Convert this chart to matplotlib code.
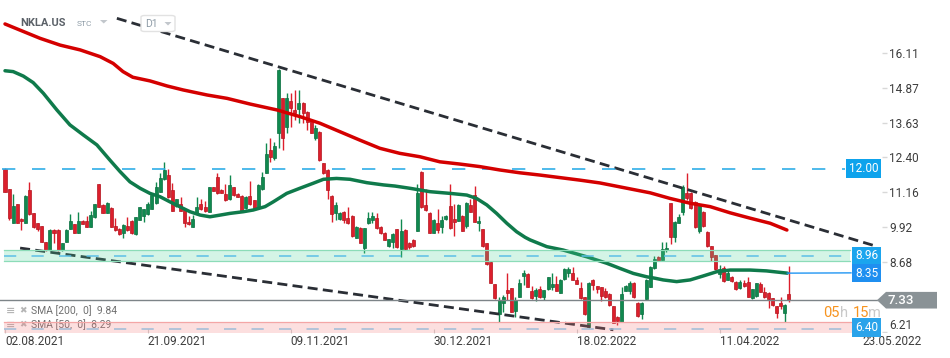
import matplotlib
matplotlib.use('Agg')
import matplotlib.pyplot as plt
from matplotlib.patches import Rectangle, Polygon, FancyBboxPatch
import matplotlib.transforms as mtransforms
import numpy as np

plt.rcParams['font.family'] = ['Roboto', 'DejaVu Sans']

# ---------------- data ----------------
opens = [11.97, 11.26, 10.08, 10.74, 10.21, 10.08, 11.24, 10.41, 10.06, 9.95,
         9.39, 9.11, 9.82, 9.82, 9.11, 9.41, 9.86, 10.03, 9.73, 10.14,
         10.14, 9.94, 10.27, 11.45, 10.71, 10.44, 10.61, 9.96, 9.86, 9.70,
         9.96, 10.14, 9.68, 10.18, 10.32, 10.39, 10.58, 10.77, 11.18, 11.62,
         11.77, 11.24, 10.67, 10.73, 10.55, 10.10, 9.94, 10.39, 10.73, 10.62,
         10.47, 11.33, 11.69, 11.24, 11.10, 10.91, 11.33, 11.10, 11.03, 10.59,
         11.03, 10.88, 10.59, 11.26, 11.85, 12.66, 12.36, 13.27, 14.49, 13.49,
         14.40, 14.08, 14.10, 14.31, 14.02, 13.72, 13.07, 13.31, 12.18, 11.95,
         11.03, 10.41, 10.20, 10.47, 10.23, 10.32, 9.55, 9.90, 9.17, 10.06,
         10.18, 10.23, 9.94, 9.73, 9.25, 9.41, 9.84, 9.14, 9.82, 9.37,
         9.47, 9.80, 11.89, 10.71, 10.44, 9.73, 10.08, 9.94, 10.20, 10.67,
         10.20, 10.15, 10.32, 9.96, 10.71, 11.06, 10.06, 9.84, 9.35, 8.70,
         7.90, 6.84, 7.22, 7.69, 7.75, 6.96, 7.46, 8.19, 8.26, 7.67,
         7.48, 7.73, 7.46, 7.72, 7.79, 7.91, 7.60, 8.07, 8.31, 8.31,
         8.05, 7.77, 7.43, 6.39, 8.05, 7.83, 7.79, 7.67, 7.55, 7.12,
         6.75, 6.57, 7.67, 7.67, 7.95, 7.24, 6.84, 7.36, 7.81, 8.46,
         8.85, 8.76, 9.11, 10.77, 9.58, 10.08, 10.47, 11.14, 11.14, 10.83,
         9.80, 10.47, 9.76, 9.25, 8.93, 8.26, 8.46, 8.05, 8.17, 7.99,
         7.75, 7.95, 7.99, 7.40, 7.48, 7.91, 7.63, 7.60, 7.40, 7.12,
         7.24, 6.89, 7.55]
highs = [12.01, 11.28, 11.10, 10.76, 10.25, 11.06, 11.52, 10.43, 10.08, 9.97,
         9.41, 9.84, 9.85, 9.85, 9.37, 9.84, 10.39, 10.05, 10.46, 10.16,
         10.32, 10.49, 10.76, 11.47, 10.73, 10.81, 10.63, 10.23, 9.88, 10.02,
         10.29, 10.16, 10.29, 10.64, 10.58, 10.83, 11.08, 11.54, 11.85, 12.22,
         11.97, 11.50, 10.93, 11.00, 10.57, 10.32, 10.35, 10.98, 10.91, 10.85,
         11.35, 11.35, 11.85, 11.26, 11.47, 11.77, 11.35, 11.12, 11.05, 11.02,
         11.55, 10.90, 11.44, 11.89, 12.89, 13.07, 12.95, 15.52, 14.51, 14.67,
         14.67, 14.79, 14.79, 14.37, 14.04, 13.74, 13.55, 13.33, 12.20, 11.97,
         11.05, 10.83, 10.46, 10.49, 10.65, 10.34, 9.96, 9.92, 9.90, 10.47,
         10.47, 10.41, 9.96, 9.75, 9.51, 9.70, 9.86, 10.20, 9.84, 9.39,
         9.49, 11.45, 11.91, 11.26, 10.46, 10.20, 10.55, 10.30, 10.34, 11.45,
         10.74, 10.73, 10.34, 10.81, 10.91, 11.38, 10.32, 9.86, 9.37, 8.72,
         7.92, 7.46, 7.51, 8.31, 7.77, 7.46, 8.10, 8.40, 8.28, 7.83,
         7.75, 7.85, 7.71, 8.16, 8.28, 8.19, 8.07, 8.48, 8.52, 8.52,
         8.14, 7.99, 7.45, 7.97, 8.07, 7.85, 7.81, 7.75, 7.57, 7.14,
         6.77, 7.79, 7.86, 8.02, 7.97, 7.26, 7.26, 8.07, 8.54, 8.90,
         8.90, 9.41, 9.41, 10.79, 10.14, 10.39, 11.42, 11.85, 11.16, 10.85,
         10.76, 10.49, 9.78, 9.27, 8.95, 8.58, 8.54, 8.38, 8.19, 8.01,
         8.05, 8.05, 8.14, 7.74, 7.95, 7.99, 7.81, 7.62, 7.42, 7.14,
         7.46, 7.18, 8.54]
lows = [11.16, 10.17, 10.06, 10.06, 9.82, 10.06, 10.36, 9.90, 9.80, 9.39,
        9.09, 9.07, 9.35, 9.09, 9.07, 9.39, 9.84, 9.71, 9.71, 10.03,
        9.92, 9.92, 10.25, 10.63, 10.42, 10.42, 9.92, 9.80, 9.65, 9.52,
        9.80, 9.69, 9.66, 10.16, 10.12, 10.37, 10.56, 10.75, 11.16, 11.60,
        10.96, 10.49, 10.65, 10.49, 9.91, 10.00, 9.92, 10.37, 10.54, 10.47,
        10.45, 11.19, 11.10, 11.12, 10.86, 10.89, 11.04, 10.98, 10.49, 10.57,
        10.72, 10.57, 10.57, 11.24, 11.83, 12.24, 12.32, 12.72, 12.66, 13.27,
        13.49, 13.72, 13.60, 13.60, 13.37, 13.25, 13.01, 12.28, 11.81, 10.91,
        10.12, 10.18, 10.18, 10.06, 10.04, 9.59, 9.53, 9.35, 9.02, 10.04,
        10.06, 9.86, 9.68, 9.45, 9.23, 9.17, 9.19, 8.85, 9.12, 9.14,
        9.23, 9.78, 10.61, 10.51, 9.71, 9.71, 9.73, 9.73, 10.18, 9.86,
        9.61, 10.13, 9.78, 9.88, 10.45, 10.10, 9.80, 9.23, 8.59, 7.93,
        7.38, 6.57, 6.92, 7.34, 6.90, 6.72, 7.44, 7.87, 7.79, 7.38,
        7.31, 7.41, 7.34, 7.70, 7.69, 7.65, 7.58, 8.05, 8.14, 8.03,
        7.89, 7.38, 6.81, 6.34, 7.69, 7.60, 7.31, 7.41, 7.14, 6.51,
        6.45, 6.55, 7.65, 7.55, 7.41, 6.75, 6.65, 7.34, 7.79, 8.44,
        8.71, 8.74, 9.05, 9.32, 9.41, 10.06, 10.35, 10.88, 10.57, 9.90,
        9.70, 9.94, 9.23, 8.73, 8.41, 8.11, 7.98, 8.03, 7.98, 7.70,
        7.73, 7.81, 7.44, 7.38, 7.46, 7.61, 7.41, 7.04, 7.14, 6.69,
        7.01, 6.57, 7.26]
closes = [11.18, 10.23, 10.67, 10.08, 10.13, 11.03, 10.38, 9.94, 9.86, 9.41,
          9.11, 9.82, 9.73, 9.11, 9.35, 9.82, 10.14, 9.73, 10.14, 10.05,
          9.94, 10.35, 10.74, 10.65, 10.44, 10.79, 9.94, 9.82, 9.67, 10.00,
          9.82, 9.71, 10.27, 10.62, 10.56, 10.74, 11.06, 11.36, 11.65, 11.95,
          10.98, 10.51, 10.91, 10.51, 10.08, 10.02, 10.21, 10.62, 10.56, 10.49,
          11.33, 11.21, 11.12, 11.14, 10.88, 11.42, 11.06, 11.00, 10.51, 11.00,
          10.74, 10.59, 11.42, 11.69, 12.50, 12.42, 12.80, 15.50, 13.07, 14.49,
          14.16, 13.96, 14.34, 13.96, 13.66, 13.27, 13.43, 12.30, 11.83, 11.24,
          10.39, 10.71, 10.44, 10.18, 10.06, 9.61, 9.94, 9.37, 9.88, 10.23,
          10.30, 9.88, 9.70, 9.47, 9.49, 9.68, 9.21, 9.80, 9.14, 9.23,
          9.25, 11.14, 10.65, 10.53, 9.73, 10.18, 9.82, 10.18, 10.32, 9.88,
          10.12, 10.71, 9.80, 10.79, 10.47, 10.12, 10.14, 9.25, 8.61, 7.95,
          7.40, 7.34, 7.46, 7.57, 6.92, 7.34, 7.95, 8.31, 7.81, 7.40,
          7.69, 7.43, 7.69, 8.14, 7.91, 7.67, 8.05, 8.42, 8.43, 8.05,
          7.91, 7.40, 6.83, 7.95, 7.87, 7.72, 7.48, 7.43, 7.16, 6.53,
          6.60, 7.55, 7.84, 7.93, 7.43, 6.77, 7.24, 8.05, 8.52, 8.78,
          8.73, 9.16, 9.17, 9.58, 10.12, 10.29, 11.36, 10.94, 10.59, 9.92,
          10.74, 9.96, 9.25, 8.85, 8.43, 8.43, 8.00, 8.28, 8.00, 7.72,
          7.99, 7.83, 7.46, 7.72, 7.93, 7.63, 7.43, 7.36, 7.16, 6.89,
          7.12, 7.16, 7.33]

sma200_idx = [0, 3.7, 8.6, 13.5, 18.4, 23.3, 26.5, 28.9, 31.3, 35.5, 39.7, 43.6,
              49.5, 54.4, 60, 66.6, 72.3, 77.1, 82, 86.9, 91.8, 96.7, 101.6,
              106.5, 111.4, 116.3, 121.2, 126.1, 131, 135.9, 140.8, 145.7, 158,
              162.9, 167.8, 172.7, 177.6, 182.5, 187.4, 191.5]
sma200_val = [17.13, 16.91, 16.62, 16.38, 16.21, 15.97, 15.73, 15.44, 15.24, 15.11,
              14.93, 14.79, 14.61, 14.49, 14.29, 14.08, 13.84, 13.61, 13.31, 13.01,
              12.72, 12.54, 12.42, 12.24, 12.16, 12.07, 11.95, 11.85, 11.77, 11.68,
              11.59, 11.49, 11.14, 10.94, 10.77, 10.65, 10.43, 10.24, 10.06, 9.82]

sma50_idx = [0, 2, 4.5, 6.9, 9.4, 12.7, 15.9, 19.2, 22.5, 25.7, 28.2, 30.6, 33.1,
             35.5, 38, 40.4, 42.9, 45.3, 47.8, 50.2, 52.7, 55.1, 58.4, 60.8, 63.7,
             65.7, 69, 72.2, 75.5, 78, 81.2, 84.5, 88.6, 92.7, 95.5, 99.2, 104.1,
             109, 113.1, 115.5, 118, 120.4, 122.9, 125.3, 127.4, 128.6, 132.7,
             136.7, 142.5, 147.4, 150.6, 153.9, 157.2, 159.2, 161.2, 164.5, 167.8,
             171, 174.3, 177.6, 182.5, 186.5, 191.6]
sma50_val = [15.47, 15.44, 15.28, 15.05, 14.67, 14.08, 13.55, 13.19, 12.84, 12.30,
             11.89, 11.53, 11.30, 11.12, 11.00, 10.82, 10.64, 10.47, 10.35, 10.29,
             10.35, 10.41, 10.47, 10.53, 10.65, 10.82, 11.12, 11.30, 11.48, 11.62,
             11.65, 11.62, 11.50, 11.42, 11.38, 11.30, 11.18, 11.12, 11.06, 10.94,
             10.71, 10.41, 10.06, 9.76, 9.56, 9.47, 9.23, 9.11, 8.87, 8.64,
             8.46, 8.28, 8.16, 8.11, 8.05, 7.99, 8.05, 8.19, 8.34, 8.40,
             8.40, 8.37, 8.29]

date_tick_idx = [0, 35, 70, 105, 140, 175, 210]
date_labels = ['02.08.2021', '21.09.2021', '09.11.2021', '30.12.2021',
               '18.02.2022', '11.04.2022', '23.05.2022']
price_ticks = [16.11, 14.87, 13.63, 12.40, 11.16, 9.92, 8.68, 6.21]

upper_trend_idx = [27.4, 213.5]
upper_trend_val = [17.33, 9.24]
lower_trend_idx = [3.7, 149.0]
lower_trend_val = [9.18, 6.28]

resistance_level = 12.00
zone_level, zone_low, zone_high = 8.96, 8.72, 9.10
sma50_label = 8.35
last_price = 7.33
support_level, support_low, support_high = 6.40, 6.17, 6.56
sma200_last, sma50_last = 9.84, 8.29

# ---------------- figure ----------------
W, H = 950, 358
fig = plt.figure(figsize=(W / 100, H / 100), dpi=100)
fig.patch.set_facecolor('white')
ax = fig.add_axes([0, 25 / H, 1, 333 / H])
ax.set_facecolor('white')
ax.set_xlim(-1.2246, 231.45)
ax.set_ylim(6.167, 17.98)
for s in ax.spines.values():
    s.set_visible(False)

yblend = ax.get_yaxis_transform()   # x in axes fraction, y in data


def fx(px):
    return px / W


# candles
idx = np.arange(len(opens))
o = np.array(opens); c = np.array(closes); h = np.array(highs); l = np.array(lows)
up = c >= o
GREEN, GREEN_E = '#10894f', '#0b6f40'
RED, RED_E = '#dc1f2c', '#b3151f'
cols = np.where(up, GREEN, RED)
ecols = np.where(up, GREEN_E, RED_E)
ax.vlines(idx, l, h, colors=cols, lw=1.0, zorder=2)
bottoms = np.minimum(o, c)
heights = np.maximum(np.abs(c - o), 0.03)
ax.bar(idx, heights, bottom=bottoms, width=0.74, color=cols, edgecolor=ecols,
       linewidth=0.5, zorder=2.1)

# trend lines
ax.plot(upper_trend_idx, upper_trend_val, color='#2a2e35', lw=2.0,
        ls=(0, (3.6, 1.9)), zorder=3)
ax.plot(lower_trend_idx, lower_trend_val, color='#2a2e35', lw=2.0,
        ls=(0, (3.6, 1.9)), zorder=3)

# moving averages
ax.plot(sma200_idx, sma200_val, color='#d40000', lw=2.5, zorder=4,
        solid_capstyle='round')
ax.plot(sma50_idx, sma50_val, color='#0f7a4b', lw=2.5, zorder=4,
        solid_capstyle='round')

# 12.00 dashed level
ax.plot([fx(2), fx(845)], [resistance_level] * 2, transform=yblend,
        color='#30aee8', lw=1.2, ls=(0, (8, 10)), zorder=3)

# green zone
ax.add_patch(Rectangle((fx(4), zone_low), fx(850) - fx(4), zone_high - zone_low,
                       transform=yblend, facecolor='#4fd39a', alpha=0.24,
                       edgecolor='none', zorder=5))
ax.plot([fx(4), fx(850)], [zone_low] * 2, transform=yblend, color='#8cdcb8', lw=0.9, zorder=5)
ax.plot([fx(4), fx(850)], [zone_high] * 2, transform=yblend, color='#8cdcb8', lw=0.9, zorder=5)
ax.plot([fx(4), fx(848)], [(zone_low + zone_high) / 2] * 2, transform=yblend,
        color='#5cbfe6', lw=1.1, ls=(0, (8, 10)), zorder=5)

# pink support zone
ax.add_patch(Rectangle((fx(4), support_low), fx(853) - fx(4), support_high - support_low,
                       transform=yblend, facecolor='#f47a7a', alpha=0.24,
                       edgecolor='none', zorder=5))
ax.plot([fx(4), fx(853)], [support_high] * 2, transform=yblend, color='#f4a6a6', lw=0.9, zorder=5)
ax.plot([fx(4), fx(850)], [6.32] * 2, transform=yblend,
        color='#9fbcd8', lw=1.1, ls=(0, (8, 10)), zorder=5)

# current price line
ax.plot([0, fx(877)], [last_price] * 2, transform=yblend, color='#7d8488',
        lw=1.0, zorder=4.5)

# line from SMA50 end to its label
ax.plot([sma50_idx[-1], (851 - 5) / 4.083], [sma50_last, sma50_last + 0.01],
        color='#2196f3', lw=1.0, zorder=4.5)

# level labels
def level_box(y, text, fc):
    ax.text(fx(878), y, text, transform=yblend, ha='right', va='center',
            fontsize=8.5, color='white', zorder=7,
            bbox=dict(boxstyle='square,pad=0.22', fc=fc, ec='none'))

level_box(resistance_level, f'{resistance_level:.2f}', '#0ea3ec')
level_box((zone_low + zone_high) / 2, f'{zone_level:.2f}', '#1ba5ee')
level_box(sma50_last, f'{sma50_label:.2f}', '#1f8ff0')
level_box(6.36, f'{support_level:.2f}', '#2aa3ea')

# last price arrow label
hh = 0.295
ax.add_patch(Polygon([(fx(877), last_price), (fx(886), last_price + hh),
                      (fx(937), last_price + hh), (fx(937), last_price - hh),
                      (fx(886), last_price - hh)], closed=True,
                     transform=yblend, facecolor='#8a9296', edgecolor='none', zorder=7))
ax.text(fx(901), last_price, f'{last_price:.2f}', transform=yblend, ha='center',
        va='center', fontsize=9.5, color='white', fontweight='medium', zorder=8)

# price axis labels (right, inside)
ax.yaxis.tick_right()
ax.set_yticks(price_ticks, [f'{v:.2f}' for v in price_ticks])
ax.tick_params(axis='y', length=0, pad=-(W - 889) / 1.389, labelsize=8.5,
               labelcolor='#3d3d3d')
for lab in ax.get_yticklabels():
    if lab.get_text() == '6.21':
        lab.set_verticalalignment('bottom')
ax.hlines(price_ticks, fx(882), fx(887), transform=yblend, color='#d8d8d8', lw=1)

# date axis
ax.set_xticks(date_tick_idx, date_labels)
ax.tick_params(axis='x', length=3, direction='in', color='#cfcfcf', pad=1.5,
               labelsize=8.5, labelcolor='#3d3d3d')
for lab in ax.get_xticklabels():
    lab.set_horizontalalignment('left')

# countdown
ax.text(fx(823), 1 - 313 / H, '05', transform=fig.transFigure, fontsize=10.5,
        color='#f7931e', va='center', ha='left', zorder=8)
ax.text(fx(840), 1 - 313 / H, 'h', transform=fig.transFigure, fontsize=10.5,
        color='#c9c9c9', va='center', ha='left', zorder=8)
ax.text(fx(853), 1 - 313 / H, '15', transform=fig.transFigure, fontsize=10.5,
        color='#f7931e', va='center', ha='left', zorder=8)
ax.text(fx(868), 1 - 313 / H, 'm', transform=fig.transFigure, fontsize=10.5,
        color='#c9c9c9', va='center', ha='left', zorder=8)

# indicator legend
for ypx, txt, zo in [(311, f'SMA [200,  0]  {sma200_last:.2f}', 6),
                     (325, f'SMA [50,  0]  {sma50_last:.2f}', 4.9)]:
    ax.text(fx(6), 1 - ypx / H, '≡', transform=fig.transFigure, fontsize=8,
            color='#b5b5b5', va='center', ha='left', zorder=zo,
            family=['DejaVu Sans'], fontweight='bold')
    ax.text(fx(19), 1 - ypx / H, '✖', transform=fig.transFigure, fontsize=6.5,
            color='#b5b5b5', va='center', ha='left', zorder=zo,
            family=['DejaVu Sans'])
    ax.text(fx(31), 1 - ypx / H, txt, transform=fig.transFigure, fontsize=7.5,
            color='#6f6f6f', va='center', ha='left', zorder=zo)

# header
fig.text(fx(20.5), 1 - 23.5 / H, 'NKLA.US', fontsize=8, fontweight='bold',
         color='#5b6168', va='center', ha='left')
fig.text(fx(77), 1 - 24 / H, 'STC', fontsize=6, color='#8d9ba6',
         va='center', ha='left')
fig.patches.append(Polygon([(fx(100), 1 - 20 / H), (fx(107.5), 1 - 20 / H),
                            (fx(103.75), 1 - 23.5 / H)], closed=True,
                           transform=fig.transFigure, facecolor='#c2c7cc',
                           edgecolor='none'))
fig.patches.append(FancyBboxPatch((fx(141), 1 - 31.5 / H), fx(34), 16 / H,
                                  boxstyle='round,pad=0,rounding_size=0.004',
                                  transform=fig.transFigure, facecolor='white',
                                  edgecolor='#e2e2e2', lw=1, zorder=10))
fig.text(fx(145), 1 - 24 / H, 'D1', fontsize=7.5, color='#8d9ba6',
         va='center', ha='left', zorder=11)
fig.patches.append(Polygon([(fx(164.5), 1 - 22 / H), (fx(171.5), 1 - 22 / H),
                            (fx(168), 1 - 25.5 / H)], closed=True,
                           transform=fig.transFigure, facecolor='#c2c7cc',
                           edgecolor='none', zorder=11))

fig.savefig('out.png', dpi=100, facecolor='white')
